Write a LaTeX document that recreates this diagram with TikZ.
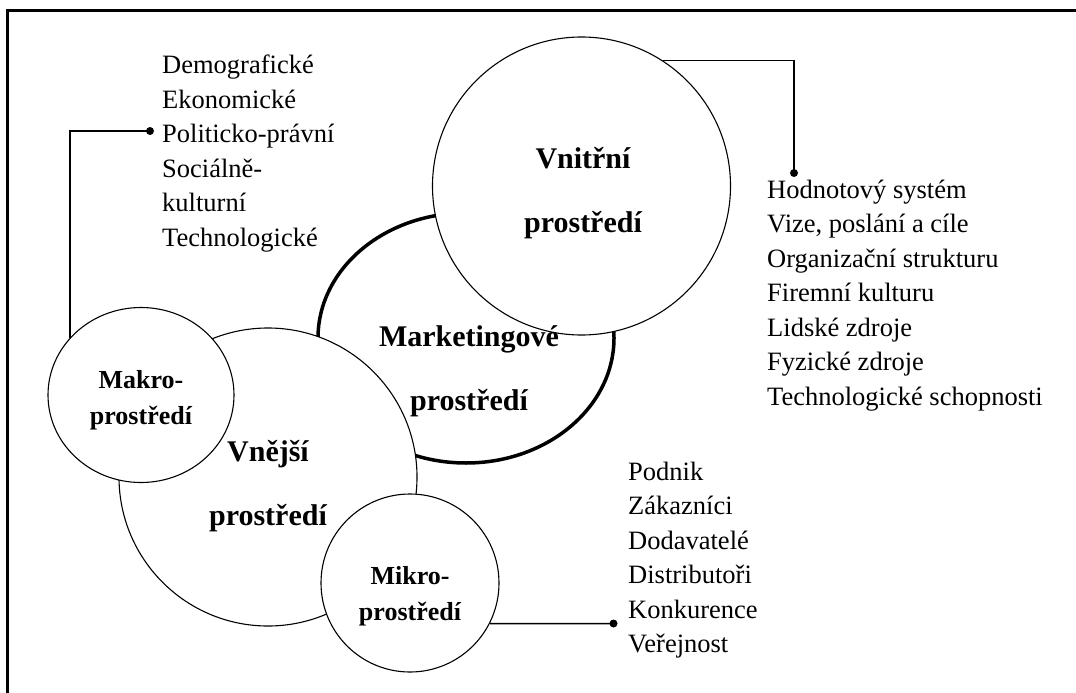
\documentclass[tikz,border=0pt]{standalone}
\usepackage{fontspec}
\setmainfont{Liberation Serif}
\usetikzlibrary{shapes.geometric}
\tikzset{
  ring/.style={circle, draw, fill=white, line width=1.1pt, inner sep=0pt},
  bigtitle/.style={align=center, font=\bfseries\fontsize{30}{64}\selectfont},
  smalltitle/.style={align=center, font=\bfseries\fontsize{26}{36}\selectfont},
  itemlist/.style={align=left, anchor=base west, inner sep=0pt, font=\fontsize{26.5}{34.5}\selectfont},
  bullet/.style={circle, fill, inner sep=0pt, minimum size=8pt},
  wire/.style={line width=1.5pt}
}
\begin{document}
\begin{tikzpicture}[x=1pt,y=-1pt]
        \useasboundingbox (0,0) rectangle (1076,693);
        % Frame
        \draw[line width=2.6pt] (7.5,693) |- (1076,10.8);

        % Circles
        \node at (466,338) [ellipse, draw, fill=white, line width=3.5pt, minimum width=296pt, minimum height=250pt, inner sep=0pt] (marketing) {};
        \node at (581.5,186) [ring, minimum size=298pt] (vnitrni) {};
        \node at (268,477) [ring, minimum size=298pt] (vnejsi) {};
        \node at (141,395) [ellipse, draw, fill=white, line width=1.1pt, minimum width=186pt, minimum height=175pt, inner sep=0pt] (makro) {};
        \node at (410,583) [ring, minimum size=178pt] (mikro) {};

        % Titles
        \node at (469,371) [bigtitle] (marketingtitle) {Marketingové\\prostředí};
        \node at (583,193) [bigtitle] (vnitrnititle) {Vnitřní\\prostředí};
        \node at (268,486) [bigtitle] (vnejsititle) {Vnější\\prostředí};
        \node at (141,400) [smalltitle] (makrotitle) {Makro-\\prostředí};
        \node at (410,596) [smalltitle] (mikrotitle) {Mikro-\\prostředí};

        % Lists (anchored at the last line)
        \node at (162,246) [itemlist] (makrolist) {Demografické\\Ekonomické\\Politicko-právní\\Sociálně-\\kulturní\\Technologické};
        \node at (767,405) [itemlist] (vnitrnilist) {Hodnotový systém\\Vize, poslání a cíle\\Organizační strukturu\\Firemní kulturu\\Lidské zdroje\\Fyzické zdroje\\Technologické schopnosti};
        \node at (628,652.5) [itemlist] (mikrolist) {Podnik\\Zákazníci\\Dodavatelé\\Distributoři\\Konkurence\\Veřejnost};

        % Connectors
        \node at (150,131) [bullet] (makrodot) {};
        \node at (794,173) [bullet] (vnitrnidot) {};
        \node at (613.5,623.5) [bullet] (mikrodot) {};
        \draw[wire] (makro.141) |- (makrodot.center);
        \draw[wire] (vnitrni.57) -| (vnitrnidot.center);
        \draw[wire] (mikro.333) -- (mikrodot.center);

    \end{tikzpicture}
\end{document}
